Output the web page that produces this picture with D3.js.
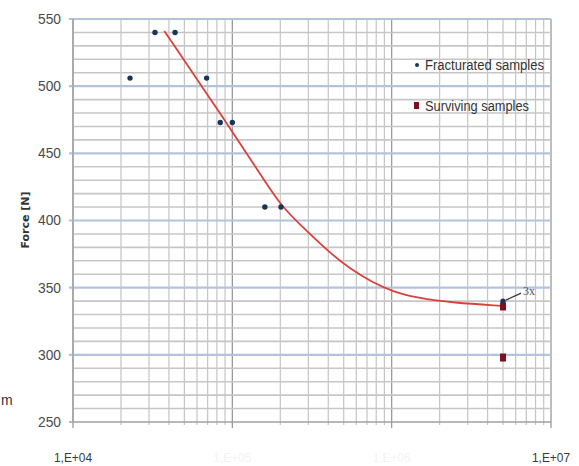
<!DOCTYPE html>
<html>
<head>
<meta charset="utf-8">
<script src="https://cdn.jsdelivr.net/npm/d3@7"></script>
<style>
  html, body { margin: 0; padding: 0; background: #ffffff; }
  svg { display: block; }
</style>
</head>
<body>
<svg id="chart" width="579" height="466"></svg>
<script>
// ---- data ----
const fracturedCycles = [22800, 32700, 43700, 69000, 84000, 100000, 160000, 202000, 5000000];
const fracturedForce  = [506, 540, 540, 506, 473, 473, 410, 410, 340];
const survivingCycles = [5000000, 5000000];
const survivingForce  = [336, 298];
const trendCycles = [37400, 91200, 149000, 204000, 293000, 410000, 548000, 767000, 1026000, 1439000, 2430000, 4910000];
const trendForce  = [541.1, 473.4, 435.0, 409.9, 392.3, 375.9, 364.0, 353.6, 346.9, 342.4, 338.7, 336.5];
const yTicks = [250, 300, 350, 400, 450, 500, 550];
const xTickValues = [1e4, 1e5, 1e6, 1e7];
const xTickLabels = ["1,E+04", "1,E+05", "1,E+06", "1,E+07"];
const legendLabels = ["Fracturated samples", "Surviving samples"];
const yTitle = "Force [N]";
const annotation = "3x";

(function () {
// ---- layout ----
const svg = d3.select("#chart");
const pL = 73, pR = 551, pT = 19, pB = 422;
const x = d3.scaleLog().domain([1e4, 1e7]).range([pL, pR]);
const y = d3.scaleLinear().domain([250, 550]).range([pB, pT]);

const g = svg.append("g");

// vertical grid (minor + major)
const vMinor = [];
for (let e = 4; e < 7; e++) for (let m = 2; m <= 9; m++) vMinor.push(m * Math.pow(10, e));
g.selectAll(".vminor").data(vMinor).enter().append("line")
  .attr("x1", d => x(d)).attr("x2", d => x(d))
  .attr("y1", pT).attr("y2", pB + 3)
  .attr("stroke", "#c4c4c4").attr("stroke-width", 1.2);
g.selectAll(".vmajor").data(xTickValues).enter().append("line")
  .attr("x1", d => x(d)).attr("x2", d => x(d))
  .attr("y1", pT).attr("y2", pB + 6)
  .attr("stroke", "#9a9a9a").attr("stroke-width", 1.3);

// horizontal grid
const hMinor = d3.range(260, 550, 10).filter(v => v % 50 !== 0);
g.selectAll(".hminor").data(hMinor).enter().append("line")
  .attr("x1", pL).attr("x2", pR)
  .attr("y1", d => y(d)).attr("y2", d => y(d))
  .attr("stroke", "#c6c6c6").attr("stroke-width", 1.6);
g.selectAll(".hmajor").data(yTicks).enter().append("line")
  .attr("x1", pL - 4).attr("x2", pR)
  .attr("y1", d => y(d)).attr("y2", d => y(d))
  .attr("stroke", d => d === 250 ? "#a0a0a0" : "#b4c3dc").attr("stroke-width", d => d === 250 ? 1.3 : 2.2);

// left axis line
g.append("line").attr("x1", pL).attr("x2", pL).attr("y1", pT).attr("y2", pB)
  .attr("stroke", "#a0a0a0").attr("stroke-width", 1.3);

// y tick labels
g.selectAll(".ylab").data(yTicks).enter().append("text")
  .attr("x", 61).attr("y", d => y(d))
  .attr("dy", "0.35em").attr("text-anchor", "end")
  .attr("font-family", "'Liberation Sans Narrow', 'Liberation Sans', Arial, sans-serif")
  .attr("font-size", 14).attr("fill", "#4a4a4a")
  .attr("textLength", 23).attr("lengthAdjust", "spacingAndGlyphs")
  .text(d => d);

// x tick labels
g.selectAll(".xlab").data(xTickValues).enter().append("text")
  .attr("x", d => x(d)).attr("y", 457)
  .attr("dy", "0.35em").attr("text-anchor", "middle")
  .attr("font-family", "'Liberation Sans Narrow', 'Liberation Sans', Arial, sans-serif")
  .attr("font-size", 13)
  .attr("fill", (d, i) => (i === 0 || i === 3) ? "#3a3a3a" : "#f3f3f3")
  .attr("textLength", 38).attr("lengthAdjust", "spacingAndGlyphs")
  .text((d, i) => xTickLabels[i]);

// y title
g.append("text")
  .attr("transform", "translate(25,220) rotate(-90)")
  .attr("text-anchor", "middle").attr("dy", "0.35em")
  .attr("font-family", "'DejaVu Sans', Verdana, sans-serif")
  .attr("font-weight", "bold").attr("font-size", 11).attr("fill", "#333")
  .text(yTitle);

// cut-off text at left edge
g.append("text").attr("x", 1).attr("y", 405)
  .attr("font-family", "'Liberation Sans Narrow', Arial, sans-serif")
  .attr("font-size", 14).attr("fill", "#333").text("m");

// trend line
const line = d3.line().x(d => x(d[0])).y(d => y(d[1])).curve(d3.curveBasis);
g.append("path")
  .datum(trendCycles.map((c, i) => [c, trendForce[i]]))
  .attr("d", line).attr("fill", "none")
  .attr("stroke", "#d9423c").attr("stroke-width", 1.8);

// surviving squares
g.selectAll(".surv").data(survivingCycles.map((c, i) => [c, survivingForce[i]])).enter().append("rect")
  .attr("x", d => x(d[0]) - 3).attr("y", d => y(d[1]) - 4)
  .attr("width", 6).attr("height", 8)
  .attr("fill", "#7a1020");

// fractured points
g.selectAll(".frac").data(fracturedCycles.map((c, i) => [c, fracturedForce[i]])).enter().append("circle")
  .attr("cx", d => x(d[0])).attr("cy", d => y(d[1])).attr("r", 2.7)
  .attr("fill", "#1a3358");

// annotation "3x"
const ax = x(5000000), ay = y(340);
g.append("line").attr("x1", ax + 3).attr("y1", ay - 1).attr("x2", ax + 18).attr("y2", ay - 8)
  .attr("stroke", "#333").attr("stroke-width", 1.2);
g.append("text").attr("x", ax + 20).attr("y", ay - 6)
  .attr("font-family", "'Liberation Serif', 'DejaVu Serif', serif")
  .attr("font-size", 12).attr("fill", "#555").text(annotation);

// legend
const lg = g.append("g");
const legendY = [65, 106];
lg.append("circle").attr("cx", 417).attr("cy", legendY[0]).attr("r", 2).attr("fill", "#1a3358");
lg.append("rect").attr("x", 414).attr("y", legendY[1] - 4).attr("width", 5).attr("height", 7).attr("fill", "#7a1020");
lg.selectAll(".lt").data(legendLabels).enter().append("text")
  .attr("x", 425).attr("y", (d, i) => legendY[i])
  .attr("dy", "0.35em")
  .attr("font-family", "'Liberation Sans Narrow', 'Liberation Sans', Arial, sans-serif")
  .attr("font-size", 14).attr("fill", "#333")
  .attr("textLength", (d, i) => i === 0 ? 119 : 104)
  .attr("lengthAdjust", "spacingAndGlyphs")
  .text(d => d);
})();
</script>
</body>
</html>
